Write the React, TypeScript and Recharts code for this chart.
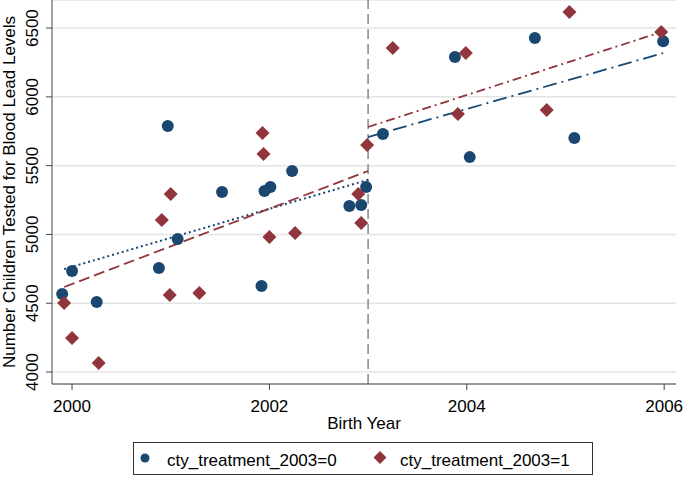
import React from "react";
import {
  ComposedChart,
  Scatter,
  Line,
  XAxis,
  YAxis,
  CartesianGrid,
  ReferenceLine,
  Legend,
} from "recharts";

// cty_treatment_2003=0
const ctrlYears = [1999.9, 2000.0, 2000.25, 2000.88, 2000.97, 2001.07, 2001.52, 2001.92, 2001.95, 2002.01, 2002.23, 2002.81, 2002.93, 2002.98, 2003.15, 2003.88, 2004.03, 2004.69, 2005.09, 2005.99];
const ctrlCounts = [4567, 4734, 4509, 4756, 5788, 4967, 5308, 4625, 5315, 5344, 5461, 5206, 5214, 5344, 5730, 6289, 5562, 6427, 5701, 6405];

// cty_treatment_2003=1
const treatYears = [1999.92, 2000.0, 2000.27, 2000.91, 2001.0, 2000.99, 2001.29, 2001.93, 2001.94, 2002.0, 2002.26, 2002.9, 2002.93, 2002.99, 2003.25, 2003.99, 2003.91, 2004.81, 2005.04, 2005.97];
const treatCounts = [4501, 4247, 4065, 5105, 5294, 4560, 4574, 5737, 5584, 4981, 5010, 5294, 5083, 5650, 6355, 6318, 5875, 5904, 6616, 6471];

// linear fits, before and after 2003
const ctrlPreYears = [1999.92, 2003];
const ctrlPreFit = [4748, 5397];
const treatPreYears = [1999.92, 2003];
const treatPreFit = [4618, 5461];
const ctrlPostYears = [2003, 2005.99];
const ctrlPostFit = [5708, 6318];
const treatPostYears = [2003, 2005.97];
const treatPostFit = [5781, 6471];

const cutoffYear = 2003;
const xTicks = [2000, 2002, 2004, 2006];
const yTicks = [4000, 4500, 5000, 5500, 6000, 6500];

const BLUE = "#1a476f";
const RED = "#90353b";
const AXIS = "#444";
const FONT = '"Liberation Sans", Arial, Helvetica, sans-serif';

const toPoints = (xs: number[], ys: number[]) => xs.map((x, i) => ({ x, y: ys[i] }));

const Dot = (props: any) => <circle cx={props.cx} cy={props.cy} r={6} fill={BLUE} />;

const Diamond = (props: any) => {
  const { cx, cy } = props;
  const s = 7;
  return <polygon points={`${cx},${cy - s} ${cx + s},${cy} ${cx},${cy + s} ${cx - s},${cy}`} fill={RED} />;
};

const XTick = ({ x, y, payload }: any) => (
  <text x={x} y={y + 20} textAnchor="middle" fontSize={17} fontFamily={FONT} fill="#000">
    {payload.value}
  </text>
);

const YTick = ({ x, y, payload }: any) => (
  <text
    x={x - 6}
    y={y}
    transform={`rotate(-90, ${x - 6}, ${y})`}
    textAnchor="middle"
    fontSize={17}
    fontFamily={FONT}
    fill="#000"
  >
    {payload.value}
  </text>
);

const XLabel = ({ viewBox }: any) => (
  <text x={viewBox.x + viewBox.width / 2} y={viewBox.y + 45} textAnchor="middle" fontSize={17} fontFamily={FONT} fill="#000">
    Birth Year
  </text>
);

const YLabel = ({ viewBox }: any) => {
  const cx = viewBox.x + 15;
  const cy = viewBox.y + viewBox.height / 2;
  return (
    <text x={cx} y={cy} transform={`rotate(-90, ${cx}, ${cy})`} textAnchor="middle" fontSize={17} fontFamily={FONT} fill="#000">
      Number Children Tested for Blood Lead Levels
    </text>
  );
};

const LegendBox = () => (
  <svg width={460} height={33} style={{ display: "block" }}>
    <rect x={0.5} y={0.5} width={459} height={32} fill="#fff" stroke="#333" />
    <circle cx={12} cy={16} r={4.5} fill={BLUE} />
    <text x={34} y={24} fontSize={17} fontFamily={FONT} fill="#000">cty_treatment_2003=0</text>
    <polygon points="247,9 253.5,15.5 247,22 240.5,15.5" fill={RED} />
    <text x={267} y={24} fontSize={17} fontFamily={FONT} fill="#000">cty_treatment_2003=1</text>
  </svg>
);

export default function App() {
  return (
    <div style={{ position: "absolute", left: 0, top: 0 }}>
      <ComposedChart width={685} height={478} margin={{ top: 0, right: 9, bottom: 44, left: 0 }}>
        <CartesianGrid vertical={false} stroke="#e4e4e4" strokeWidth={1.5} />
        <XAxis
          type="number"
          dataKey="x"
          domain={[1999.797, 2006.12]}
          allowDataOverflow
          ticks={xTicks}
          tick={<XTick />}
          tickSize={6}
          height={50}
          stroke={AXIS}
          label={XLabel}
        />
        <YAxis
          type="number"
          dataKey="y"
          domain={[3913, 6704]}
          allowDataOverflow
          ticks={yTicks}
          tick={<YTick />}
          tickSize={6}
          width={52}
          stroke={AXIS}
          label={YLabel}
        />
        <ReferenceLine x={cutoffYear} stroke="#888" strokeWidth={1.5} strokeDasharray="10 5" />
        <Line data={toPoints(ctrlPreYears, ctrlPreFit)} dataKey="y" type="linear" stroke={BLUE} strokeWidth={2} strokeDasharray="2 3" dot={false} activeDot={false} legendType="none" isAnimationActive={false} />
        <Line data={toPoints(treatPreYears, treatPreFit)} dataKey="y" type="linear" stroke={RED} strokeWidth={1.8} strokeDasharray="11 5" dot={false} activeDot={false} legendType="none" isAnimationActive={false} />
        <Line data={toPoints(ctrlPostYears, ctrlPostFit)} dataKey="y" type="linear" stroke={BLUE} strokeWidth={1.8} strokeDasharray="14 5 2 5" dot={false} activeDot={false} legendType="none" isAnimationActive={false} />
        <Line data={toPoints(treatPostYears, treatPostFit)} dataKey="y" type="linear" stroke={RED} strokeWidth={1.8} strokeDasharray="9 4 2 4" dot={false} activeDot={false} legendType="none" isAnimationActive={false} />
        <Scatter name="cty_treatment_2003=0" data={toPoints(ctrlYears, ctrlCounts)} dataKey="y" fill={BLUE} shape={Dot} isAnimationActive={false} />
        <Scatter name="cty_treatment_2003=1" data={toPoints(treatYears, treatCounts)} dataKey="y" fill={RED} shape={Diamond} isAnimationActive={false} />
        <Legend
          layout="horizontal"
          verticalAlign="middle"
          align="center"
          content={LegendBox}
          wrapperStyle={{ top: 442, left: 133, width: 460, height: 33 }}
        />
      </ComposedChart>
    </div>
  );
}
